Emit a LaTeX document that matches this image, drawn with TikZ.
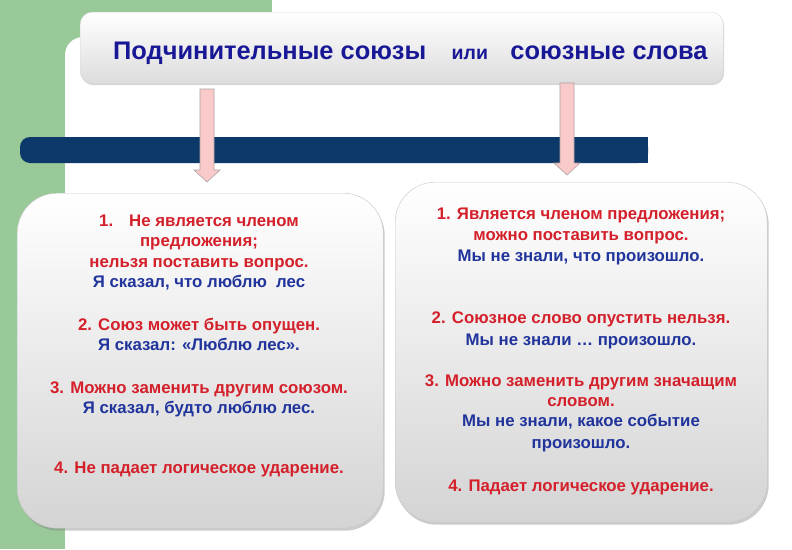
\documentclass[tikz,border=0pt]{standalone}
\usepackage{fontspec}
\setmainfont{Liberation Sans}
\usepackage{xcolor}
\usepackage{tikz}
\usetikzlibrary{positioning,shadows}

\definecolor{greenbg}{RGB}{153,201,153}
\definecolor{barblue}{RGB}{12,56,106}
\definecolor{titleblue}{RGB}{24,24,150}
\definecolor{redtxt}{RGB}{212,32,42}
\definecolor{bluetxt}{RGB}{32,52,156}
\definecolor{arrowpink}{RGB}{250,202,202}
\definecolor{arrowedge}{RGB}{175,160,160}
\definecolor{panelgray}{RGB}{212,212,212}

\begin{document}
\begin{tikzpicture}[x=1pt,y=-1pt,
    redline/.style={text=redtxt,font=\bfseries\fontsize{16.8}{20}\selectfont,inner sep=0pt,text height=12pt,text depth=0pt},
    blueline/.style={redline,text=bluetxt},
    titletext/.style={text=titleblue,font=\bfseries\fontsize{25.4}{30}\selectfont,inner sep=0pt},
    titlebox/.style={rounded corners=12pt,top color=white,bottom color=gray!27,draw=gray!30,drop shadow={opacity=.3,shadow xshift=1pt,shadow yshift=-2pt}},
    panel/.style={rounded corners=40pt,top color=white,bottom color=panelgray,draw=gray!45,drop shadow={opacity=.4,shadow xshift=1.5pt,shadow yshift=-2.5pt}},
    blockarrow/.style={fill=arrowpink,draw=arrowedge,line width=.6pt}]
    \useasboundingbox (0,0) rectangle (792,549);
    \clip (0,0) rectangle (792,549);

    % background
    \fill[greenbg] (0,0) rectangle (272,549);
    \fill[white,rounded corners=18pt] (65,37) rectangle (830,600);

    % dark bar
    \fill[barblue,rounded corners=10pt] (20,137) rectangle (648,163);
    \fill[barblue] (60,137) rectangle (648,163);

    % title
    \node[titlebox,minimum width=643pt,minimum height=71pt,anchor=north west] (title) at (80,12) {};
    \node[titletext,anchor=base west] (t1) at (113,59) {Подчинительные союзы};
    \node[titletext,font=\bfseries\fontsize{19.5}{22}\selectfont,base right=25pt of t1] (t2) {или};
    \node[titletext,base right=22pt of t2] (t3) {союзные слова};

    % arrows
    \coordinate (la) at (207,89);
    \coordinate (lb) at (207,182);
    \coordinate (ra) at (567,83);
    \coordinate (rb) at (567,175);
    \draw[blockarrow] ([xshift=-7pt]la) -- ([xshift=-7pt,yshift=12pt]lb) -- ([xshift=-13pt,yshift=12pt]lb) -- (lb)
        -- ([xshift=13pt,yshift=12pt]lb) -- ([xshift=7pt,yshift=12pt]lb) -- ([xshift=7pt]la) -- cycle;
    \draw[blockarrow] ([xshift=-7pt]ra) -- ([xshift=-7pt,yshift=12pt]rb) -- ([xshift=-13pt,yshift=12pt]rb) -- (rb)
        -- ([xshift=13pt,yshift=12pt]rb) -- ([xshift=7pt,yshift=12pt]rb) -- ([xshift=7pt]ra) -- cycle;

    % panels
    \node[panel,minimum width=366pt,minimum height=335pt,anchor=north west] (lpanel) at (17,193) {};
    \node[panel,minimum width=372pt,minimum height=340pt,anchor=north west] (rpanel) at (395,182) {};

    % left panel text
    \node[redline] (l11) at (199,220) {1.\hspace{16pt}Не является членом};
    \node[redline] (l12) at (199,240) {предложения;};
    \node[redline] (l13) at (199,261) {нельзя поставить вопрос.};
    \node[blueline] (l14) at (199,281) {Я сказал, что люблю\ \ лес};
    \node[redline] (l21) at (199,324) {2. Союз может быть опущен.};
    \node[blueline] (l22) at (199,344) {Я сказал: «Люблю лес».};
    \node[redline] (l31) at (199,387) {3. Можно заменить другим союзом.};
    \node[blueline] (l32) at (199,407) {Я сказал, будто люблю лес.};
    \node[redline] (l41) at (199,467) {4. Не падает логическое ударение.};

    % right panel text
    \node[redline] (r11) at (581,213) {1. Является членом предложения;};
    \node[redline] (r12) at (581,234) {можно поставить вопрос.};
    \node[blueline] (r13) at (581,255) {Мы не знали, что произошло.};
    \node[redline] (r21) at (581,317) {2. Союзное слово опустить нельзя.};
    \node[blueline] (r22) at (581,339) {Мы не знали … произошло.};
    \node[redline] (r31) at (581,380) {3. Можно заменить другим значащим};
    \node[redline] (r32) at (581,400) {словом.};
    \node[blueline] (r33) at (581,420) {Мы не знали, какое событие};
    \node[blueline] (r34) at (581,442) {произошло.};
    \node[redline] (r41) at (581,485) {4. Падает логическое ударение.};
\end{tikzpicture}
\end{document}
